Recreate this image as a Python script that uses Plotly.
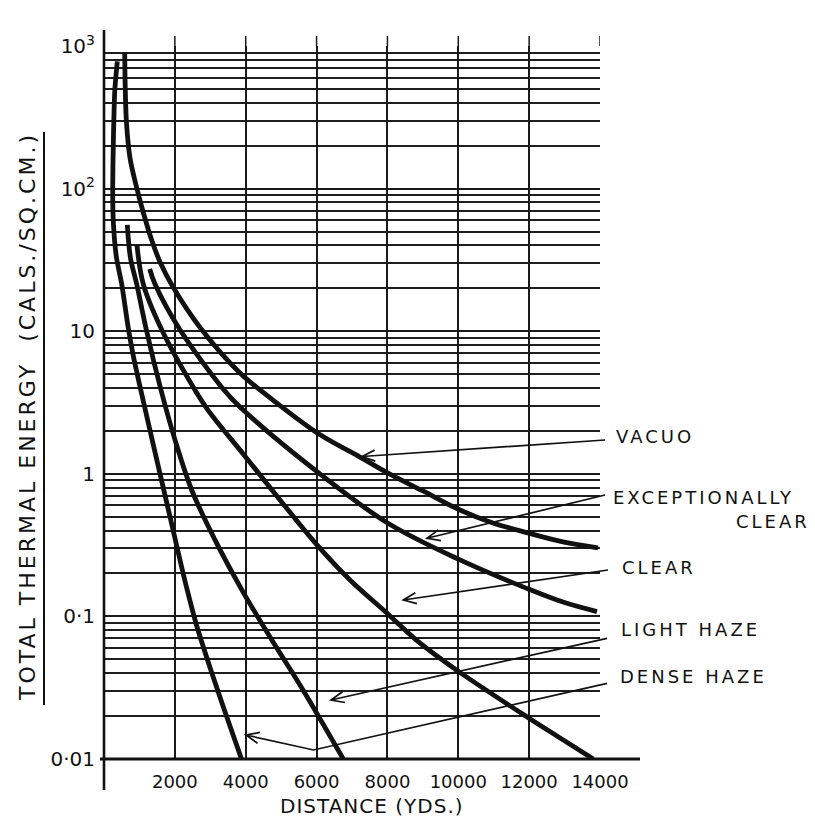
import plotly.graph_objects as go
import math

# ---- data ----
dense_haze_x = [375, 305, 265, 245, 265, 350, 500, 686, 833, 974, 1425, 1863, 2244, 2611, 2964, 3373, 3881]
dense_haze_y = [780, 490, 220, 98, 57, 33, 21.4, 10.5, 6.6, 4.55, 1.47, 0.50, 0.195, 0.087, 0.046, 0.023, 0.01]

light_haze_x = [658, 748, 923, 1185, 1609, 2004, 2475, 3133, 3895, 4742, 5617, 6754]
light_haze_y = [55.6, 32.6, 21.4, 10.5, 3.87, 1.73, 0.77, 0.344, 0.153, 0.068, 0.0305, 0.01]

clear_x = [931, 1109, 1609, 2568, 2935, 3980, 6012, 6943, 7959, 8826, 9955, 11931, 12964, 13811]
clear_y = [40.2, 21.4, 10.5, 3.87, 2.8, 1.33, 0.317, 0.18, 0.107, 0.068, 0.042, 0.0198, 0.0136, 0.01]

exc_clear_x = [1290, 1439, 2117, 3387, 3839, 6068, 8016, 10048, 11967, 12955, 13915]
exc_clear_y = [27.3, 21.4, 10.5, 3.87, 2.94, 1.01, 0.45, 0.249, 0.156, 0.126, 0.108]

vacuo_x = [584, 601, 635, 734, 903, 1129, 1355, 1581, 1948, 2738, 3839, 4770, 6068, 7226, 8016, 9004, 10048, 10979, 11967, 12955, 13943]
vacuo_y = [898, 491, 288, 164, 106, 65.3, 42.9, 30.6, 20.4, 10.4, 5.09, 3.29, 1.90, 1.31, 1.01, 0.758, 0.557, 0.452, 0.385, 0.333, 0.302]

x_tick_vals = [2000, 4000, 6000, 8000, 10000, 12000, 14000]
x_tick_text = ["2000", "4000", "6000", "8000", "10000", "12000", "14000"]
y_tick_vals = [0.01, 0.1, 1, 10, 100, 1000]
y_tick_text = ["0·01", "0·1", "1", "10", "10<sup>2</sup>", "10<sup>3</sup>"]
y_minor_vals = [m * 10 ** e for e in range(-2, 3) for m in range(2, 10)]

FONT = "DejaVu Sans"
INK = "#111111"

fig = go.Figure()
for xs, ys, name, smooth in [
    (dense_haze_x, dense_haze_y, "DENSE HAZE", 0.6),
    (light_haze_x, light_haze_y, "LIGHT HAZE", 1.0),
    (clear_x, clear_y, "CLEAR", 1.0),
    (exc_clear_x, exc_clear_y, "EXCEPTIONALLY CLEAR", 1.0),
    (vacuo_x, vacuo_y, "VACUO", 1.0),
]:
    fig.add_trace(go.Scatter(
        x=xs, y=ys, mode="lines", name=name,
        line=dict(color=INK, width=4.8, shape="spline", smoothing=smooth),
        showlegend=False, hoverinfo="skip",
    ))

# layout frame (reference pixel positions; page body adds an 8px offset)
OFF = 8
L, R, T, B = 104, 600, 46, 759
W, H = 815 - OFF, 818 - OFF
pw, ph = R - L, B - T


def px(xp):
    return (xp - L) / pw


def py(yp):
    return (B - yp) / ph


fig.update_layout(
    width=W, height=H,
    margin=dict(l=L - OFF, r=W - (R - OFF), t=T - OFF, b=H - (B - OFF), pad=0),
    paper_bgcolor="white", plot_bgcolor="white",
    font=dict(family=FONT, color=INK),
    xaxis=dict(
        range=[0, 14000], tickmode="array", tickvals=x_tick_vals, ticktext=x_tick_text,
        showgrid=True, gridcolor="#1a1a1a", gridwidth=1.5, zeroline=False,
        showline=False, ticks="", ticklabelstandoff=10,
        tickfont=dict(family=FONT, size=18, color=INK),
    ),
    yaxis=dict(
        type="log", range=[-2, 3], tickmode="array", tickvals=y_tick_vals, ticktext=y_tick_text,
        showgrid=True, gridcolor="#1a1a1a", gridwidth=1.8, zeroline=False,
        showline=False, ticks="", ticklabelstandoff=8,
        tickfont=dict(family=FONT, size=20, color=INK),
        minor=dict(tickmode="array", tickvals=y_minor_vals, showgrid=True,
                   gridcolor="#1e1e1e", gridwidth=1.5, ticks=""),
    ),
)

# vertical grid lines run a little above the top decade line
for xv in x_tick_vals:
    fig.add_shape(type="line", xref="x", yref="paper", x0=xv, x1=xv, y0=1, y1=py(36),
                  line=dict(color="#1a1a1a", width=1.5))

# extended axis lines and title underline
fig.add_shape(type="line", xref="paper", yref="paper", x0=0, x1=0, y0=py(790), y1=py(30),
              line=dict(color=INK, width=2.6))
fig.add_shape(type="line", xref="paper", yref="paper", x0=px(100), x1=px(640), y0=0, y1=0,
              line=dict(color=INK, width=3))
fig.add_shape(type="line", xref="paper", yref="paper", x0=px(44), x1=px(44), y0=py(705), y1=py(132),
              line=dict(color=INK, width=2))

# axis titles
fig.add_annotation(xref="paper", yref="paper", x=px(27), y=py(417), textangle=-90,
                   text='<span style="letter-spacing:3px">TOTAL THERMAL ENERGY\u00a0\u00a0(CALS./SQ.CM.)</span>',
                   showarrow=False, font=dict(family=FONT, size=22, color=INK),
                   xanchor="center", yanchor="middle")
fig.add_annotation(xref="paper", yref="paper", x=px(372), y=py(806),
                   text='<span style="letter-spacing:1px">DISTANCE (YDS.)</span>',
                   showarrow=False, font=dict(family=FONT, size=20, color=INK),
                   xanchor="center", yanchor="middle")

# curve labels
labels = [
    ("VACUO", 614, 437, "left"),
    ("EXCEPTIONALLY", 611, 497, "left"),
    ("CLEAR", 812, 521, "right"),
    ("CLEAR", 620, 567, "left"),
    ("LIGHT HAZE", 619, 629, "left"),
    ("DENSE HAZE", 618, 676, "left"),
]
for txt, lx, ly, anc in labels:
    fig.add_annotation(xref="paper", yref="paper", x=px(lx), y=py(ly),
                       text=f'<span style="letter-spacing:3px">{txt}</span>',
                       showarrow=False, font=dict(family=FONT, size=18, color=INK),
                       xanchor=anc, yanchor="middle")

# pointer arrows drawn as paths (points in reference pixels -> paper coords)
pointers = [
    [(605, 440), (362, 456.5)],
    [(605, 495), (427, 538.3)],
    [(608, 570), (403.3, 600)],
    [(607, 638.3), (331, 700)],
    [(607, 683.3), (313.5, 750), (246, 735)],
]
HEAD_LEN, HEAD_HALF = 13, 5.5


def P(x, y):
    return f"{px(x):.5f},{py(y):.5f}"


for pts in pointers:
    d = "M " + P(*pts[0]) + "".join(" L " + P(*p) for p in pts[1:])
    (x1, y1), (x2, y2) = pts[-2], pts[-1]
    ln = math.hypot(x2 - x1, y2 - y1)
    ux, uy = (x2 - x1) / ln, (y2 - y1) / ln
    nx, ny = -uy, ux
    bx, by = x2 - HEAD_LEN * ux, y2 - HEAD_LEN * uy
    d += (" M " + P(bx + HEAD_HALF * nx, by + HEAD_HALF * ny) + " L " + P(x2, y2)
          + " L " + P(bx - HEAD_HALF * nx, by - HEAD_HALF * ny))
    fig.add_shape(type="path", xref="paper", yref="paper", path=d,
                  line=dict(color=INK, width=1.7))

fig.write_html("out.html")
